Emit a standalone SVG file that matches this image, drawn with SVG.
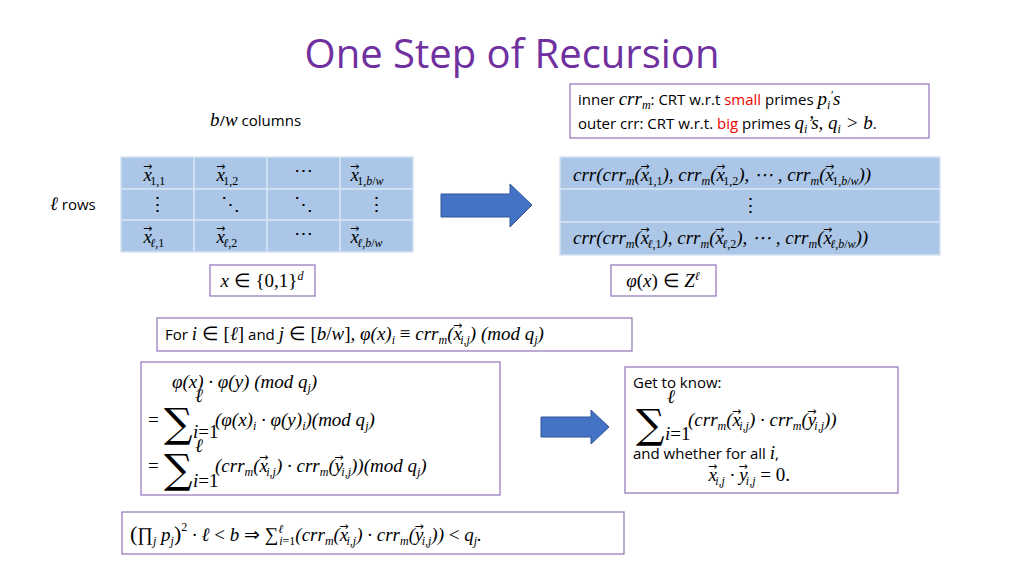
<svg xmlns="http://www.w3.org/2000/svg" width="1024" height="576" viewBox="0 0 1024 576">
<style>
.t{font-family:"Open Sans","Liberation Sans",sans-serif;font-size:15px;fill:#000}
.m{font-family:"Liberation Serif",serif;font-style:italic;font-size:19px;fill:#000}
.n{font-style:normal}
.s{font-size:12px}
.v{font-size:11px;font-style:normal;font-family:"DejaVu Sans",sans-serif}
.sig{font-family:"DejaVu Serif",serif;font-style:normal;font-size:40px}
.box{fill:#fff;stroke:#9a7cc0;stroke-width:1.3}
.cell{fill:#abc6e6;stroke:#d6e3f3;stroke-width:1.5}
.arr{fill:#4472c4;stroke:#2f5597;stroke-width:1}
</style>
<rect width="1024" height="576" fill="#fff"/>
<text x="512" y="68" text-anchor="middle" font-family="'Open Sans','Liberation Sans',sans-serif" font-size="40" fill="#7030a0">One Step of Recursion</text>

<g id="crtbox">
<rect class="box" x="570" y="84" width="359" height="54"/>
<text x="578" y="105" class="t">inner <tspan class="m">crr<tspan class="s" dy="4">m</tspan></tspan><tspan dy="-4">: CRT w.r.t </tspan><tspan fill="#e00">small</tspan> primes <tspan class="m">p<tspan class="s" dy="4">i</tspan><tspan dy="-10" class="s">′</tspan><tspan dy="6">s</tspan></tspan></text>
<text x="578" y="129" class="t">outer crr: CRT w.r.t. <tspan fill="#e00">big</tspan> primes <tspan class="m">q<tspan class="s" dy="4">i</tspan><tspan dy="-4">’s, q</tspan><tspan class="s" dy="4">i</tspan><tspan dy="-4"> &gt; b</tspan></tspan>.</text>
</g>

<text x="210" y="126" class="t"><tspan class="m">b</tspan>/<tspan class="m">w</tspan> columns</text>
<text x="50" y="210" class="t"><tspan class="m">ℓ</tspan> rows</text>

<g id="lefttable">
<rect class="cell" x="121" y="157" width="73" height="32"/><rect class="cell" x="194" y="157" width="73" height="32"/><rect class="cell" x="267" y="157" width="73" height="32"/><rect class="cell" x="340" y="157" width="73" height="32"/>
<rect class="cell" x="121" y="189" width="73" height="31"/><rect class="cell" x="194" y="189" width="73" height="31"/><rect class="cell" x="267" y="189" width="73" height="31"/><rect class="cell" x="340" y="189" width="73" height="31"/>
<rect class="cell" x="121" y="220" width="73" height="32"/><rect class="cell" x="194" y="220" width="73" height="32"/><rect class="cell" x="267" y="220" width="73" height="32"/><rect class="cell" x="340" y="220" width="73" height="32"/>
<text class="m" x="143" y="181">x<tspan class="v" dx="-9" dy="-11">→</tspan><tspan class="s n" dx="-2" dy="15">1,1</tspan></text>
<text class="m" x="216" y="181">x<tspan class="v" dx="-9" dy="-11">→</tspan><tspan class="s n" dx="-2" dy="15">1,2</tspan></text>
<text class="m n" x="303" y="177" text-anchor="middle">⋯</text>
<text class="m" x="350" y="181">x<tspan class="v" dx="-9" dy="-11">→</tspan><tspan class="s" dx="-2" dy="15"><tspan class="n">1,</tspan>b<tspan class="n">/</tspan>w</tspan></text>
<text class="m n" x="157" y="211" text-anchor="middle">⋮</text>
<text class="m n" x="230" y="211" text-anchor="middle">⋱</text>
<text class="m n" x="303" y="211" text-anchor="middle">⋱</text>
<text class="m n" x="376" y="211" text-anchor="middle">⋮</text>
<text class="m" x="143" y="243">x<tspan class="v" dx="-9" dy="-11">→</tspan><tspan class="s" dx="-2" dy="15">ℓ<tspan class="n">,1</tspan></tspan></text>
<text class="m" x="216" y="243">x<tspan class="v" dx="-9" dy="-11">→</tspan><tspan class="s" dx="-2" dy="15">ℓ<tspan class="n">,2</tspan></tspan></text>
<text class="m n" x="303" y="240" text-anchor="middle">⋯</text>
<text class="m" x="350" y="243">x<tspan class="v" dx="-9" dy="-11">→</tspan><tspan class="s" dx="-2" dy="15">ℓ<tspan class="n">,</tspan>b<tspan class="n">/</tspan>w</tspan></text>
</g>

<g id="righttable">
<rect class="cell" x="560" y="157" width="380" height="32"/>
<rect class="cell" x="560" y="189" width="380" height="33"/>
<rect class="cell" x="560" y="222" width="380" height="33"/>
<text class="m" x="573" y="181">crr(crr<tspan class="s" dy="4">m</tspan><tspan dy="-4">(x</tspan><tspan class="v" dx="-9" dy="-11">→</tspan><tspan class="s n" dx="-2" dy="15">1,1</tspan><tspan dy="-4">), crr</tspan><tspan class="s" dy="4">m</tspan><tspan dy="-4">(x</tspan><tspan class="v" dx="-9" dy="-11">→</tspan><tspan class="s n" dx="-2" dy="15">1,2</tspan><tspan dy="-4">), ⋯ , crr</tspan><tspan class="s" dy="4">m</tspan><tspan dy="-4">(x</tspan><tspan class="v" dx="-9" dy="-11">→</tspan><tspan class="s" dx="-2" dy="15"><tspan class="n">1,</tspan>b<tspan class="n">/</tspan>w</tspan><tspan dy="-4">))</tspan></text>
<text class="m n" x="750" y="212" text-anchor="middle">⋮</text>
<text class="m" x="573" y="244">crr(crr<tspan class="s" dy="4">m</tspan><tspan dy="-4">(x</tspan><tspan class="v" dx="-9" dy="-11">→</tspan><tspan class="s" dx="-2" dy="15">ℓ<tspan class="n">,1</tspan></tspan><tspan dy="-4">), crr</tspan><tspan class="s" dy="4">m</tspan><tspan dy="-4">(x</tspan><tspan class="v" dx="-9" dy="-11">→</tspan><tspan class="s" dx="-2" dy="15">ℓ<tspan class="n">,2</tspan></tspan><tspan dy="-4">), ⋯ , crr</tspan><tspan class="s" dy="4">m</tspan><tspan dy="-4">(x</tspan><tspan class="v" dx="-9" dy="-11">→</tspan><tspan class="s" dx="-2" dy="15">ℓ<tspan class="n">,</tspan>b<tspan class="n">/</tspan>w</tspan><tspan dy="-4">))</tspan></text>
</g>

<g id="connectors">
<path class="arr" d="M441,194 H510 V184 L532,205 L510,227 V217 H441 Z"/>
<path class="arr" d="M541,417 H591 V410 L609,427 L591,444 V437 H541 Z"/>
</g>

<g id="xbox"><rect class="box" x="210" y="265" width="105" height="31"/>
<text class="m" x="262" y="287" text-anchor="middle">x <tspan class="n">∈ {0,1}</tspan><tspan class="s" dy="-7">d</tspan></text></g>
<g id="phibox"><rect class="box" x="611" y="265" width="105" height="31"/>
<text class="m" x="663" y="287" text-anchor="middle">φ<tspan class="n">(</tspan>x<tspan class="n">) ∈ </tspan>Z<tspan class="s" dy="-7">ℓ</tspan></text></g>

<g id="forbox"><rect class="box" x="157" y="318" width="475" height="33"/>
<text x="165" y="340" class="t">For <tspan class="m">i <tspan class="n">∈ [</tspan>ℓ<tspan class="n">]</tspan></tspan> and <tspan class="m">j <tspan class="n">∈ [</tspan>b<tspan class="n">/</tspan>w<tspan class="n">]</tspan>, φ(x)<tspan class="s" dy="4">i</tspan><tspan dy="-4" class="n"> ≡ </tspan><tspan>crr</tspan><tspan class="s" dy="4">m</tspan><tspan dy="-4">(x</tspan><tspan class="v" dx="-9" dy="-11">→</tspan><tspan class="s" dx="-2" dy="15">i,j</tspan><tspan dy="-4">) (mod q</tspan><tspan class="s" dy="4">j</tspan><tspan dy="-4">)</tspan></tspan></text></g>

<g id="leftbox"><rect class="box" x="141" y="362" width="359" height="133"/>
<text class="m" x="172" y="388">φ(x) · φ(y) (mod q<tspan class="s" dy="4">j</tspan><tspan dy="-4">)</tspan></text>
<text class="m n" x="148" y="426">=</text>
<text class="sig" x="164" y="437">∑</text>
<text class="m" x="195" y="402" font-size="12">ℓ</text>
<text class="m" x="193" y="438" font-size="12">i<tspan class="n">=1</tspan></text>
<text class="m" x="215" y="426">(φ(x)<tspan class="s" dy="4">i</tspan><tspan dy="-4"> · φ(y)</tspan><tspan class="s" dy="4">i</tspan><tspan dy="-4">)(mod q</tspan><tspan class="s" dy="4">j</tspan><tspan dy="-4">)</tspan></text>
<text class="m n" x="148" y="472">=</text>
<text class="sig" x="164" y="483">∑</text>
<text class="m" x="195" y="452" font-size="12">ℓ</text>
<text class="m" x="193" y="487" font-size="12">i<tspan class="n">=1</tspan></text>
<text class="m" x="215" y="472">(crr<tspan class="s" dy="4">m</tspan><tspan dy="-4">(x</tspan><tspan class="v" dx="-9" dy="-11">→</tspan><tspan class="s" dx="-2" dy="15">i,j</tspan><tspan dy="-4">) · crr</tspan><tspan class="s" dy="4">m</tspan><tspan dy="-4">(y</tspan><tspan class="v" dx="-9" dy="-11">→</tspan><tspan class="s" dx="-2" dy="15">i,j</tspan><tspan dy="-4">))(mod q</tspan><tspan class="s" dy="4">j</tspan><tspan dy="-4">)</tspan></text>
</g>

<g id="rightbox"><rect class="box" x="625" y="367" width="273" height="126"/>
<text x="633" y="388" class="t">Get to know:</text>
<text class="sig" x="636" y="438">∑</text>
<text class="m" x="667" y="403" font-size="12">ℓ</text>
<text class="m" x="665" y="440" font-size="12">i<tspan class="n">=1</tspan></text>
<text class="m" x="688" y="426">(crr<tspan class="s" dy="4">m</tspan><tspan dy="-4">(x</tspan><tspan class="v" dx="-9" dy="-11">→</tspan><tspan class="s" dx="-2" dy="15">i,j</tspan><tspan dy="-4">) · crr</tspan><tspan class="s" dy="4">m</tspan><tspan dy="-4">(y</tspan><tspan class="v" dx="-9" dy="-11">→</tspan><tspan class="s" dx="-2" dy="15">i,j</tspan><tspan dy="-4">))</tspan></text>
<text x="633" y="459" class="t">and whether for all <tspan class="m">i</tspan>,</text>
<text class="m" x="708" y="481">x<tspan class="v" dx="-9" dy="-11">→</tspan><tspan class="s" dx="-2" dy="15">i,j</tspan><tspan dy="-4"> · y</tspan><tspan class="v" dx="-9" dy="-11">→</tspan><tspan class="s" dx="-2" dy="15">i,j</tspan><tspan dy="-4" class="n"> = 0.</tspan></text>
</g>

<g id="bottombox"><rect class="box" x="122" y="512" width="502" height="42"/>
<text class="m" x="130" y="541"><tspan class="n" font-size="22">(</tspan><tspan class="n">∏</tspan><tspan class="s" dy="4">j</tspan><tspan dy="-4"> p</tspan><tspan class="s" dy="4">j</tspan><tspan class="n" font-size="22" dy="-4">)</tspan><tspan class="s n" dy="-10">2</tspan><tspan dy="10"> · ℓ </tspan><tspan class="n">&lt;</tspan> b <tspan class="n">⇒ ∑</tspan><tspan class="s" dy="-8">ℓ</tspan><tspan class="s" dx="-4" dy="12">i<tspan class="n">=1</tspan></tspan><tspan dy="-4">(crr</tspan><tspan class="s" dy="4">m</tspan><tspan dy="-4">(x</tspan><tspan class="v" dx="-9" dy="-11">→</tspan><tspan class="s" dx="-2" dy="15">i,j</tspan><tspan dy="-4">) · crr</tspan><tspan class="s" dy="4">m</tspan><tspan dy="-4">(y</tspan><tspan class="v" dx="-9" dy="-11">→</tspan><tspan class="s" dx="-2" dy="15">i,j</tspan><tspan dy="-4">))  </tspan><tspan class="n">&lt;</tspan> q<tspan class="s" dy="4">j</tspan><tspan dy="-4">.</tspan></text>
</g>
</svg>
